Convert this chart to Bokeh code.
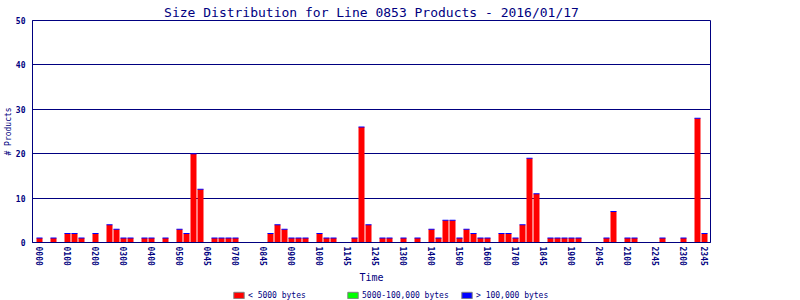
from bokeh.plotting import figure
from bokeh.layouts import column
from bokeh.models import ColumnDataSource, FixedTicker, Legend, LegendItem, Range1d
from bokeh.embed import file_html
from bokeh.resources import INLINE

# ---- data ----
# 96 fifteen-minute slots (slot 0 = 0000, slot 95 = 2345)
small_counts = [1, 0, 1, 0, 2, 2, 1, 0, 2, 0, 4, 3, 1, 1, 0, 1,
                1, 0, 1, 0, 3, 2, 20, 12, 0, 1, 1, 1, 1, 0, 0, 0,
                0, 2, 4, 3, 1, 1, 1, 0, 2, 1, 1, 0, 0, 1, 26, 4,
                0, 1, 1, 0, 1, 0, 1, 0, 3, 1, 5, 5, 1, 3, 2, 1,
                1, 0, 2, 2, 1, 4, 19, 11, 0, 1, 1, 1, 1, 1, 0, 0,
                0, 1, 7, 0, 1, 1, 0, 0, 0, 1, 0, 0, 1, 0, 28, 2]
tick_slots = [0, 4, 8, 12, 16, 20, 24, 28, 32, 36, 40, 44, 48, 52, 56, 60,
              64, 68, 72, 76, 80, 84, 88, 92, 95]
tick_labels = ["0000", "0100", "0200", "0300", "0400", "0500", "0645", "0700",
               "0845", "0900", "1000", "1145", "1245", "1300", "1400", "1500",
               "1600", "1700", "1845", "1900", "2045", "2100", "2245", "2300", "2345"]
y_ticks = [0, 10, 20, 30, 40, 50]
legend_labels = ["< 5000 bytes", "5000-100,000 bytes", "> 100,000 bytes"]

NAVY = "#000080"
RED = "#FF0000"
GREEN = "#00FF00"
BLUE = "#0000FF"
MONO = "DejaVu Sans Mono"

slots = [i for i, v in enumerate(small_counts) if v > 0]
vals = [small_counts[i] for i in slots]
src = ColumnDataSource(dict(x=slots, top=vals))

p = figure(width=800, height=288, output_backend="svg",
           toolbar_location=None,
           x_range=Range1d(-1, 95.857), y_range=Range1d(0, 50),
           min_border_left=32, min_border_right=90, min_border_top=20,
           min_border_bottom=46, background_fill_color="white",
           border_fill_color="white", outline_line_color=NAVY)

p.title.text = "Size Distribution for Line 0853 Products - 2016/01/17"
p.title.align = "center"
p.title.text_font = MONO
p.title.text_font_size = "13px"
p.title.text_font_style = "normal"
p.title.text_color = NAVY
p.title.offset = 0
p.title.standoff = 2

bars = p.vbar(x="x", top="top", bottom=0, width=6 / 7, source=src,
              fill_color=RED, line_color=None)
caps = p.rect(x="x", y="top", width=6 / 7, height=1, height_units="screen",
              source=src, fill_color=BLUE, line_color=None)

# axes
p.xaxis.ticker = FixedTicker(ticks=tick_slots)
p.xaxis.major_label_overrides = {s: l for s, l in zip(tick_slots, tick_labels)}
p.xaxis.major_label_orientation = "vertical"
p.xaxis.axis_label = "Time"
p.yaxis.ticker = FixedTicker(ticks=y_ticks)
p.yaxis.axis_label = "# Products"

for ax in (p.xaxis[0], p.yaxis[0]):
    ax.axis_line_color = NAVY
    ax.major_tick_line_color = None
    ax.minor_tick_line_color = None
    ax.major_tick_out = 0
    ax.major_tick_in = 0
    ax.major_label_text_font = MONO
    ax.major_label_text_font_size = "8px"
    ax.major_label_text_font_style = "bold"
    ax.major_label_text_color = NAVY
    ax.axis_label_text_font = MONO
    ax.axis_label_text_font_style = "normal"
    ax.axis_label_text_color = NAVY

p.xaxis.major_label_standoff = 4
p.xaxis.axis_label_standoff = 3
p.xaxis.axis_label_text_font_size = "10px"
p.yaxis.major_label_standoff = 7
p.yaxis.axis_label_standoff = 0
p.yaxis.axis_label_text_font_size = "8px"

p.xgrid.grid_line_color = None
p.ygrid.grid_line_color = NAVY
p.ygrid.grid_line_width = 1

# ---- legend strip (separate figure so nothing is clipped) ----
lg = figure(width=800, height=12, output_backend="svg", toolbar_location=None,
            x_axis_location=None, y_axis_location=None,
            x_range=Range1d(0, 1), y_range=Range1d(0, 1),
            min_border_left=0, min_border_right=0, min_border_top=0,
            min_border_bottom=0, outline_line_color=None,
            background_fill_color="white", border_fill_color="white")
lg.xgrid.grid_line_color = None
lg.ygrid.grid_line_color = None
# swatch-only renderers: one point placed outside the strip's visible range
sw = dict(x=[-5], top=[-5], bottom=[-6])
r_small = lg.vbar(x=sw["x"], top=sw["top"], bottom=sw["bottom"], width=1,
                  fill_color=RED, line_color="#808080")
r_mid = lg.vbar(x=sw["x"], top=sw["top"], bottom=sw["bottom"], width=1,
                fill_color=GREEN, line_color="#808080")
r_large = lg.vbar(x=sw["x"], top=sw["top"], bottom=sw["bottom"], width=1,
                  fill_color=BLUE, line_color="#808080")

legend = Legend(items=[LegendItem(label=legend_labels[0], renderers=[r_small]),
                       LegendItem(label=legend_labels[1], renderers=[r_mid]),
                       LegendItem(label=legend_labels[2], renderers=[r_large])],
                orientation="horizontal", location=(200, 0),
                glyph_width=13, glyph_height=8, label_standoff=3,
                label_width=90, label_height=10, spacing=8, padding=0,
                margin=0, border_line_color=None, background_fill_alpha=0,
                label_text_font=MONO, label_text_font_size="8px",
                label_text_color=NAVY)
lg.add_layout(legend, "center")

page = column(p, lg, spacing=0)
open("out.html", "w").write(file_html(page, INLINE))
